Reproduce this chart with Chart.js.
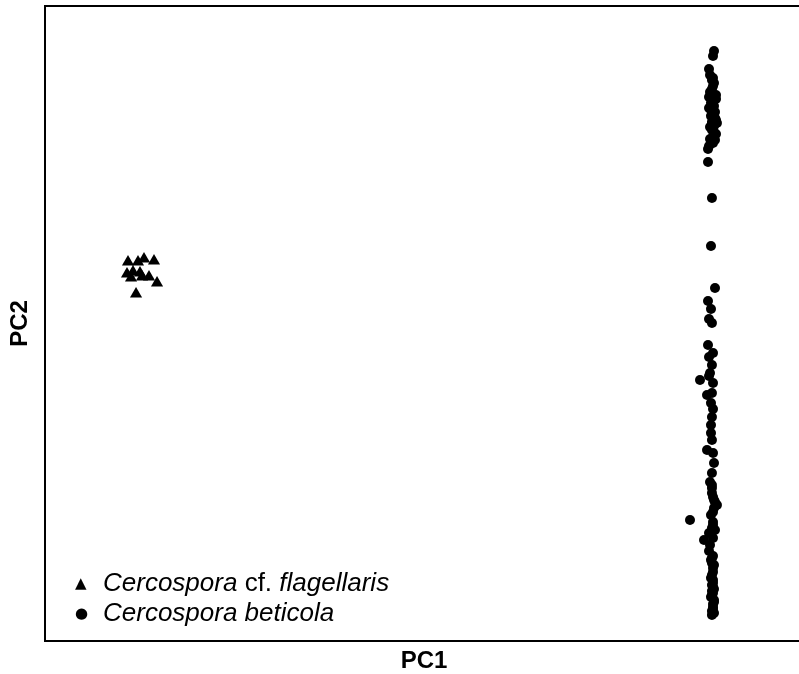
<!DOCTYPE html>
<html>
<head>
<meta charset="utf-8">
<script src="https://cdn.jsdelivr.net/npm/chart.js@4"></script>
<style>
  html, body { margin: 0; padding: 0; background: #fff; overflow: hidden; width: 799px; height: 674px; }
  #outer { position: relative; width: 799px; height: 674px; overflow: hidden; }
  #c { position: absolute; left: 0; top: 0; width: 803px; height: 674px; }
  #legend { position: absolute; left: 75px; top: 568px; font-family: "Liberation Sans", Arial, sans-serif; font-size: 26px; color: #000; line-height: 29px; }
  #legend .row { white-space: nowrap; }
  #legend .sym { display: inline-block; width: 28px; font-family: "DejaVu Sans", sans-serif; font-size: 15px; vertical-align: 3px; }
  #legend i { font-style: italic; }
</style>
</head>
<body>
<div id="outer">
  <canvas id="c" width="803" height="674"></canvas>
  <div id="legend">
    <div class="row"><span class="sym">&#9650;</span><i>Cercospora</i> cf. <i>flagellaris</i></div>
    <div class="row"><span class="sym">&#9679;</span><i>Cercospora beticola</i></div>
  </div>
</div>
<script>
// Cercospora cf. flagellaris (triangles)
const flagPC1 = [10.95, 12.27, 13.06, 14.38, 10.82, 11.61, 12.53, 11.35, 12.80, 13.72, 14.78, 12.01];
const flagPC2 = [59.69, 59.69, 60.16, 59.84, 57.80, 58.11, 57.95, 57.17, 57.32, 57.32, 56.38, 54.65];

// Cercospora beticola (circles)
const betPC1 = [
  88.26, 88.13, 87.60, 88.13, 87.99, 88.13, 87.73, 88.52, 87.60, 88.13, 87.86, 88.26, 87.86, 88.13,
  88.39, 87.99, 88.65, 88.26, 87.73, 87.99, 88.52, 88.13, 88.39, 87.86, 87.60, 87.47, 87.47, 87.99,
  87.86, 88.39, 87.47, 87.86, 87.60, 87.99, 87.47, 88.13, 87.60, 87.99, 87.73, 87.60, 86.41, 88.13,
  87.99, 87.34, 87.86, 88.13, 87.99, 87.86, 87.86, 87.99, 87.34, 88.13, 88.26, 87.99, 87.73, 87.99,
  87.99, 88.13,
  88.26, 88.65, 88.13, 85.09, 88.13, 87.99, 87.60, 86.94, 88.13, 87.73, 87.60, 87.99, 87.99, 88.13,
  88.13, 87.86, 88.13, 88.13, 87.99, 87.99, 88.26, 88.13, 88.13, 87.99, 87.99,
  87.73, 88.26, 87.99, 88.52, 87.60, 88.39, 87.86, 88.52, 87.99, 88.26, 87.73, 88.13,
  88.13, 87.86, 88.26, 87.99, 88.13, 87.99, 88.26, 88.13, 87.86, 88.26, 88.13, 88.26,
  87.99, 88.39, 88.26, 87.86, 88.13, 88.39
];
const betPC2 = [
  92.91, 92.13, 90.08, 88.66, 88.35, 87.40, 86.46, 85.98, 85.67, 85.04, 84.72, 84.25, 83.62, 82.99,
  82.36, 81.73, 81.57, 81.10, 80.94, 80.47, 79.84, 79.37, 78.90, 78.74, 77.95, 77.48, 75.43, 69.76,
  62.20, 55.59, 53.54, 52.28, 50.71, 50.08, 46.61, 45.35, 44.72, 43.46, 42.20, 41.73, 41.10, 40.63,
  39.06, 38.74, 37.48, 36.54, 35.28, 34.02, 32.76, 31.65, 30.08, 29.61, 28.03, 26.46, 25.04, 24.09,
  23.31, 22.68,
  22.20, 21.42, 20.31, 19.06, 18.74, 17.80, 17.01, 15.91, 16.22, 15.12, 14.17, 13.07, 12.28, 11.50,
  10.87, 9.92, 9.13, 8.50, 7.87, 7.24, 6.46, 5.83, 5.35, 4.72, 4.09,
  89.13, 87.87, 86.93, 85.35, 83.94, 83.31, 82.68, 82.05, 81.42, 80.16, 79.06, 78.43,
  13.39, 12.76, 11.97, 10.39, 9.61, 8.82, 8.19, 7.56, 6.93, 6.14, 5.04, 4.41,
  24.57, 21.89, 20.94, 19.84, 18.27, 17.48
];

const toPts = (xs, ys) => xs.map((x, i) => ({ x: x, y: ys[i] }));

const boxPlugin = {
  id: 'box',
  afterDraw(chart) {
    const a = chart.chartArea, ctx = chart.ctx;
    ctx.save();
    ctx.strokeStyle = '#000';
    ctx.lineWidth = 2;
    ctx.beginPath();
    ctx.moveTo(a.right + 2, a.top);
    ctx.lineTo(a.left, a.top);
    ctx.lineTo(a.left, a.bottom);
    ctx.lineTo(a.right + 2, a.bottom);
    ctx.stroke();
    ctx.restore();
  }
};

const titleFont = { family: '"Liberation Sans", Arial, sans-serif', size: 24, weight: 'bold', lineHeight: 1 };

new Chart(document.getElementById('c'), {
  type: 'scatter',
  data: {
    datasets: [
      { label: 'Cercospora cf. flagellaris', data: toPts(flagPC1, flagPC2), pointStyle: 'triangle',
        pointRadius: 7, backgroundColor: '#000', borderColor: '#000', borderWidth: 0 },
      { label: 'Cercospora beticola', data: toPts(betPC1, betPC2), pointStyle: 'circle',
        pointRadius: 5, backgroundColor: '#000', borderColor: '#000', borderWidth: 0 }
    ]
  },
  options: {
    responsive: false,
    maintainAspectRatio: false,
    animation: false,
    layout: { autoPadding: false, padding: { top: 6, left: 0, right: 0, bottom: 0 } },
    plugins: { legend: { display: false }, tooltip: { enabled: false } },
    scales: {
      x: {
        min: 0, max: 100,
        grid: { display: false, drawTicks: false, tickLength: 0 }, border: { display: false },
        ticks: { display: false },
        title: { display: true, text: 'PC1', color: '#000', font: titleFont,
          padding: { top: 8.5, bottom: 0.5 } }
      },
      y: {
        min: 0, max: 100,
        grid: { display: false, drawTicks: false, tickLength: 0 }, border: { display: false },
        ticks: { display: false },
        title: { display: true, text: 'PC2', color: '#000', font: titleFont,
          padding: { top: 8, bottom: 13 } }
      }
    }
  },
  plugins: [boxPlugin]
});
</script>
</body>
</html>
